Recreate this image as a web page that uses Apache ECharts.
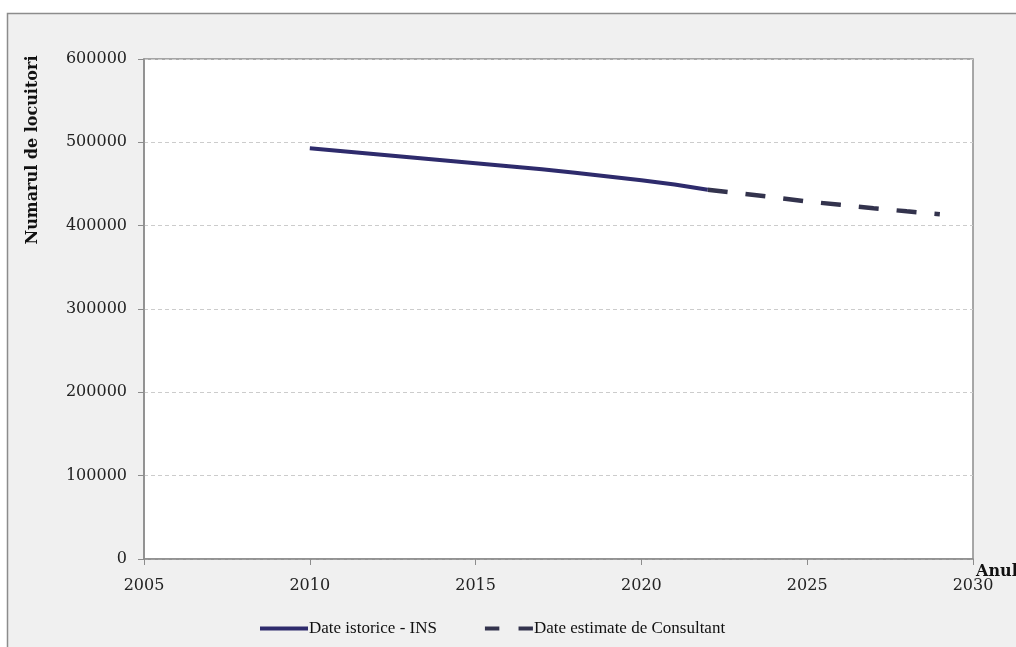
<!DOCTYPE html>
<html>
<head>
<meta charset="utf-8">
<script src="https://cdn.jsdelivr.net/npm/echarts@6/dist/echarts.min.js"></script>
<style>
html,body{margin:0;padding:0;background:#fff;}
#c{width:1016px;height:647px;}
</style>
</head>
<body>
<div id="c"></div>
<script>
const histYears = [2010,2011,2012,2013,2014,2015,2016,2017,2018,2019,2020,2021,2022];
const histValues = [492800,489200,485600,482000,478400,474800,471200,467600,463500,459000,454500,449500,443000];
const estYears = [2022,2023,2024,2025,2026,2027,2028,2029];
const estValues = [443000,438500,434000,429000,425000,421000,417200,413600];
const xTicks = [2005,2010,2015,2020,2025,2030];
const yTicks = [0,100000,200000,300000,400000,500000,600000];
const seriesNames = ['Date istorice - INS','Date estimate de Consultant'];
const yTitle = 'Numarul de locuitori';
const xTitle = 'Anul';

const serif = '"DejaVu Serif", serif';
const chart = echarts.init(document.getElementById('c'));
chart.setOption({
  animation:false,
  backgroundColor:'#ffffff',
  graphic:[
    {type:'rect', z:-10, shape:{x:7.5,y:13.5,width:1020,height:660}, style:{fill:'#f0f0f0', stroke:'#8c8c8c', lineWidth:1.5}},
    {type:'text', x:33, y:150, rotation:Math.PI/2, style:{text:yTitle, font:'bold 16px "DejaVu Serif", serif', fill:'#111', align:'center', verticalAlign:'middle'}},
    {type:'text', x:976, y:572, style:{text:xTitle, font:'bold 16px "DejaVu Serif", serif', fill:'#111', align:'left', verticalAlign:'middle'}}
  ],
  grid:{left:144, right:43, top:59, bottom:88, show:true, backgroundColor:'#ffffff', borderColor:'#8c8c8c', borderWidth:1.5, containLabel:false},
  legend:{
    left:255, top:615,
    itemWidth:48, itemHeight:4, itemGap:48,
    textStyle:{fontFamily:'"Liberation Serif", serif', fontSize:17, color:'#111', padding:[0,0,0,-4]},
    data:[
      {name:seriesNames[0], icon:'rect'},
      {name:seriesNames[1], icon:'path://M0,0H15V4H0Z M35,0H50V4H35Z'}
    ]
  },
  xAxis:{
    type:'value', min:xTicks[0], max:xTicks[xTicks.length-1], interval:5,
    axisLine:{show:true, lineStyle:{color:'#8c8c8c', width:1.5}},
    axisTick:{show:true, length:6, lineStyle:{color:'#8c8c8c'}},
    axisLabel:{fontFamily:serif, fontSize:16, color:'#222', margin:19, formatter:v=>String(v)},
    splitLine:{show:false}
  },
  yAxis:{
    type:'value', min:yTicks[0], max:yTicks[yTicks.length-1], interval:100000,
    axisLine:{show:true, lineStyle:{color:'#8c8c8c', width:1.5}},
    axisTick:{show:true, length:6, lineStyle:{color:'#8c8c8c'}},
    axisLabel:{fontFamily:serif, fontSize:16, color:'#222', margin:17, formatter:v=>String(v)},
    splitLine:{show:true, lineStyle:{color:'#cccccc', type:[4,3], width:1}}
  },
  series:[
    {name:seriesNames[0], type:'line', symbol:'none', z:3,
     data:histYears.map((y,i)=>[y,histValues[i]]),
     lineStyle:{color:'#2e2b6c', width:4}, itemStyle:{color:'#2e2b6c'}},
    {name:seriesNames[1], type:'line', symbol:'none', z:2,
     data:estYears.map((y,i)=>[y,estValues[i]]),
     lineStyle:{color:'#33334d', width:4.5, type:[20,18]}, itemStyle:{color:'#33334d'}}
  ]
});
</script>
</body>
</html>
